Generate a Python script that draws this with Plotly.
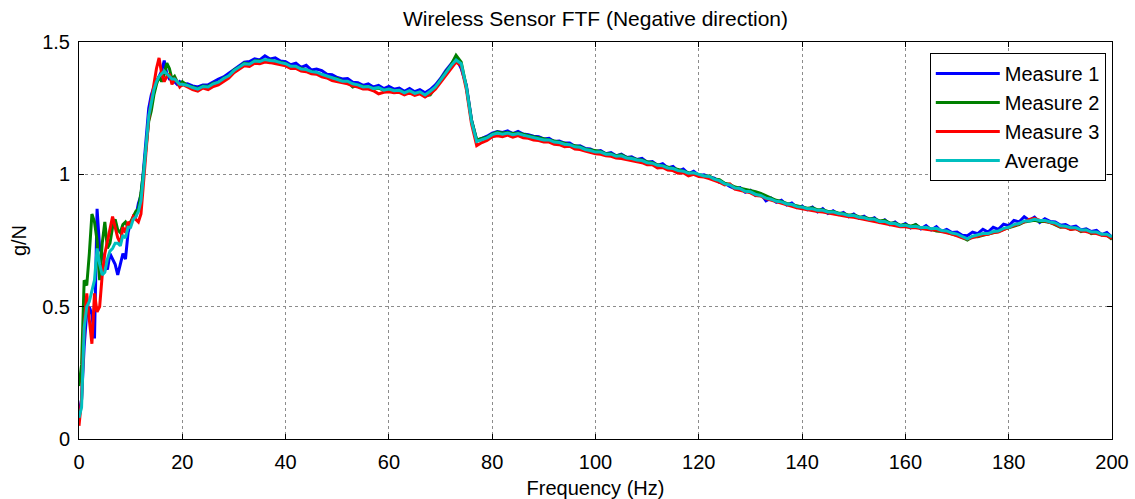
import plotly.graph_objects as go

# Frequency bins (Hz): 0.5 Hz spacing up to 20 Hz, then 1 Hz spacing to 200 Hz
freq = [i * 0.5 for i in range(41)] + list(range(21, 201))

measure_1 = [
    0.10, 0.15, 0.35, 0.48, 0.50, 0.47, 0.38, 0.87, 0.72, 0.70,
    0.66, 0.64, 0.70, 0.68, 0.66, 0.62, 0.66, 0.70, 0.68, 0.78,
    0.82, 0.83, 0.84, 0.89, 0.92, 1.02, 1.13, 1.25, 1.30, 1.33,
    1.35, 1.37, 1.39, 1.43, 1.38, 1.36, 1.36, 1.35, 1.34, 1.35,
    1.34,
    1.342, 1.334, 1.330, 1.338, 1.338, 1.350, 1.360, 1.368, 1.382, 1.398,
    1.412, 1.424, 1.426, 1.436, 1.432, 1.448, 1.436, 1.440, 1.428, 1.426,
    1.414, 1.420, 1.404, 1.412, 1.394, 1.398, 1.392, 1.378, 1.376, 1.366,
    1.360, 1.362, 1.348, 1.346, 1.336, 1.342, 1.330, 1.336, 1.324, 1.332,
    1.322, 1.326, 1.314, 1.324, 1.312, 1.320, 1.308, 1.320, 1.338, 1.362,
    1.392, 1.418, 1.440, 1.400, 1.336, 1.206, 1.128, 1.136, 1.144, 1.156,
    1.162, 1.158, 1.164, 1.154, 1.162, 1.152, 1.150, 1.144, 1.142, 1.134,
    1.136, 1.124, 1.126, 1.118, 1.118, 1.106, 1.108, 1.098, 1.096, 1.086,
    1.090, 1.078, 1.082, 1.070, 1.076, 1.064, 1.066, 1.056, 1.060, 1.046,
    1.048, 1.034, 1.040, 1.024, 1.030, 1.012, 1.020, 1.002, 1.012, 0.996,
    0.998, 0.990, 0.986, 0.970, 0.966, 0.954, 0.946, 0.950, 0.932, 0.940,
    0.920, 0.926, 0.900, 0.910, 0.894, 0.902, 0.884, 0.892, 0.874, 0.880,
    0.866, 0.876, 0.858, 0.870, 0.852, 0.862, 0.848, 0.856, 0.840, 0.850,
    0.834, 0.842, 0.828, 0.836, 0.818, 0.828, 0.810, 0.820, 0.804, 0.814,
    0.798, 0.810, 0.794, 0.806, 0.790, 0.802, 0.784, 0.792, 0.780, 0.782,
    0.770, 0.768, 0.782, 0.776, 0.792, 0.782, 0.800, 0.792, 0.812, 0.806,
    0.826, 0.820, 0.840, 0.826, 0.838, 0.818, 0.832, 0.822, 0.820, 0.808,
    0.810, 0.800, 0.804, 0.790, 0.794, 0.784, 0.788, 0.772, 0.780, 0.762,
]

measure_2 = [
    0.20, 0.28, 0.60, 0.58, 0.70, 0.85, 0.82, 0.75, 0.60, 0.74,
    0.82, 0.72, 0.74, 0.80, 0.83, 0.79, 0.78, 0.81, 0.82, 0.80,
    0.82, 0.84, 0.86, 0.87, 0.93, 1.01, 1.10, 1.20, 1.24, 1.30,
    1.34, 1.37, 1.35, 1.38, 1.42, 1.40, 1.36, 1.37, 1.35, 1.34,
    1.35,
    1.336, 1.330, 1.324, 1.334, 1.332, 1.344, 1.346, 1.364, 1.370, 1.394,
    1.404, 1.420, 1.416, 1.428, 1.428, 1.430, 1.432, 1.426, 1.424, 1.418,
    1.408, 1.406, 1.400, 1.394, 1.390, 1.384, 1.378, 1.372, 1.364, 1.362,
    1.352, 1.350, 1.330, 1.338, 1.332, 1.332, 1.324, 1.326, 1.318, 1.322,
    1.316, 1.318, 1.308, 1.314, 1.306, 1.310, 1.296, 1.300, 1.330, 1.356,
    1.386, 1.412, 1.450, 1.424, 1.330, 1.204, 1.130, 1.136, 1.140, 1.152,
    1.160, 1.156, 1.158, 1.154, 1.156, 1.152, 1.146, 1.142, 1.138, 1.134,
    1.132, 1.126, 1.122, 1.118, 1.112, 1.108, 1.104, 1.096, 1.092, 1.088,
    1.086, 1.078, 1.078, 1.070, 1.074, 1.064, 1.062, 1.056, 1.054, 1.048,
    1.044, 1.036, 1.032, 1.026, 1.024, 1.018, 1.012, 1.006, 1.004, 0.998,
    0.994, 0.994, 0.982, 0.980, 0.966, 0.962, 0.952, 0.948, 0.944, 0.940,
    0.934, 0.928, 0.918, 0.910, 0.902, 0.898, 0.890, 0.886, 0.880, 0.878,
    0.872, 0.874, 0.866, 0.866, 0.860, 0.860, 0.854, 0.852, 0.846, 0.846,
    0.840, 0.838, 0.832, 0.832, 0.824, 0.826, 0.816, 0.816, 0.808, 0.810,
    0.804, 0.810, 0.796, 0.800, 0.792, 0.786, 0.784, 0.782, 0.774, 0.770,
    0.762, 0.752, 0.764, 0.764, 0.770, 0.774, 0.780, 0.784, 0.792, 0.798,
    0.806, 0.810, 0.820, 0.822, 0.826, 0.822, 0.822, 0.818, 0.808, 0.800,
    0.802, 0.792, 0.796, 0.784, 0.790, 0.776, 0.780, 0.772, 0.770, 0.754,
]

measure_3 = [
    0.05, 0.15, 0.42, 0.55, 0.45, 0.36, 0.55, 0.48, 0.50, 0.62,
    0.70, 0.75, 0.79, 0.84, 0.80, 0.76, 0.74, 0.80, 0.78, 0.82,
    0.81, 0.84, 0.83, 0.82, 0.85, 0.97, 1.10, 1.21, 1.28, 1.34,
    1.40, 1.44, 1.38, 1.35, 1.37, 1.38, 1.34, 1.36, 1.35, 1.33,
    1.34,
    1.330, 1.320, 1.314, 1.326, 1.320, 1.332, 1.338, 1.352, 1.364, 1.384,
    1.396, 1.410, 1.408, 1.420, 1.418, 1.424, 1.422, 1.418, 1.414, 1.410,
    1.400, 1.400, 1.390, 1.388, 1.380, 1.378, 1.368, 1.364, 1.354, 1.350,
    1.344, 1.342, 1.334, 1.330, 1.322, 1.322, 1.316, 1.304, 1.310, 1.312,
    1.308, 1.310, 1.300, 1.308, 1.298, 1.304, 1.292, 1.304, 1.322, 1.348,
    1.376, 1.402, 1.424, 1.410, 1.320, 1.190, 1.108, 1.120, 1.128, 1.142,
    1.146, 1.142, 1.148, 1.140, 1.146, 1.138, 1.136, 1.130, 1.128, 1.122,
    1.122, 1.114, 1.112, 1.104, 1.106, 1.096, 1.094, 1.088, 1.082, 1.078,
    1.076, 1.070, 1.068, 1.062, 1.060, 1.056, 1.050, 1.048, 1.044, 1.036,
    1.036, 1.024, 1.026, 1.016, 1.014, 1.004, 1.006, 0.994, 1.000, 0.992,
    0.990, 0.984, 0.978, 0.970, 0.960, 0.964, 0.944, 0.940, 0.934, 0.930,
    0.920, 0.918, 0.908, 0.902, 0.896, 0.890, 0.884, 0.880, 0.874, 0.870,
    0.866, 0.864, 0.860, 0.858, 0.854, 0.852, 0.846, 0.844, 0.840, 0.838,
    0.834, 0.830, 0.826, 0.824, 0.818, 0.816, 0.810, 0.808, 0.802, 0.802,
    0.798, 0.798, 0.794, 0.792, 0.790, 0.790, 0.784, 0.780, 0.774, 0.768,
    0.760, 0.756, 0.762, 0.766, 0.772, 0.774, 0.780, 0.782, 0.792, 0.800,
    0.806, 0.812, 0.820, 0.830, 0.834, 0.826, 0.824, 0.818, 0.812, 0.802,
    0.800, 0.792, 0.794, 0.786, 0.784, 0.778, 0.776, 0.770, 0.768, 0.758,
]

average = [
    0.08, 0.12, 0.42, 0.50, 0.52, 0.56, 0.60, 0.72, 0.66, 0.62,
    0.63, 0.68, 0.71, 0.72, 0.74, 0.74, 0.73, 0.77, 0.76, 0.80,
    0.80, 0.83, 0.84, 0.86, 0.90, 1.00, 1.11, 1.22, 1.27, 1.32,
    1.35, 1.37, 1.38, 1.39, 1.38, 1.37, 1.36, 1.36, 1.35, 1.34,
    1.34,
    1.336, 1.328, 1.322, 1.332, 1.330, 1.342, 1.348, 1.362, 1.372, 1.392,
    1.404, 1.418, 1.416, 1.428, 1.426, 1.434, 1.430, 1.428, 1.422, 1.418,
    1.408, 1.408, 1.398, 1.396, 1.388, 1.386, 1.378, 1.372, 1.364, 1.360,
    1.352, 1.352, 1.342, 1.338, 1.330, 1.332, 1.324, 1.328, 1.318, 1.322,
    1.316, 1.318, 1.308, 1.316, 1.306, 1.312, 1.300, 1.314, 1.330, 1.356,
    1.384, 1.410, 1.432, 1.418, 1.330, 1.200, 1.124, 1.132, 1.138, 1.150,
    1.156, 1.152, 1.156, 1.150, 1.154, 1.148, 1.144, 1.140, 1.136, 1.130,
    1.130, 1.122, 1.120, 1.114, 1.112, 1.104, 1.102, 1.094, 1.090, 1.084,
    1.084, 1.076, 1.076, 1.068, 1.070, 1.062, 1.060, 1.054, 1.052, 1.044,
    1.042, 1.034, 1.032, 1.024, 1.022, 1.014, 1.012, 1.004, 1.006, 1.000,
    0.994, 0.992, 0.982, 0.976, 0.964, 0.960, 0.948, 0.946, 0.936, 0.934,
    0.924, 0.920, 0.910, 0.906, 0.898, 0.896, 0.888, 0.886, 0.878, 0.876,
    0.870, 0.870, 0.864, 0.864, 0.858, 0.858, 0.852, 0.850, 0.844, 0.844,
    0.838, 0.836, 0.830, 0.830, 0.822, 0.822, 0.814, 0.814, 0.806, 0.808,
    0.802, 0.804, 0.798, 0.800, 0.794, 0.796, 0.788, 0.786, 0.778, 0.774,
    0.764, 0.756, 0.766, 0.770, 0.776, 0.776, 0.784, 0.786, 0.796, 0.800,
    0.810, 0.814, 0.824, 0.824, 0.830, 0.826, 0.826, 0.820, 0.816, 0.806,
    0.804, 0.798, 0.798, 0.790, 0.790, 0.782, 0.782, 0.774, 0.774, 0.764,
]

series_names = ["Measure 1", "Measure 2", "Measure 3", "Average"]
series_colors = ["#0000ff", "#008000", "#ff0000", "#00bfbf"]
x_ticks = [0, 20, 40, 60, 80, 100, 120, 140, 160, 180, 200]
y_ticks = [0, 0.5, 1, 1.5]

FONT = "Arial, Liberation Sans, Helvetica, sans-serif"

fig = go.Figure()
for name, values, color in zip(series_names,
                               [measure_1, measure_2, measure_3, average],
                               series_colors):
    fig.add_trace(go.Scatter(
        x=freq, y=values, mode="lines", name=name,
        line=dict(color=color, width=3),
    ))

axis_common = dict(
    showline=True, linecolor="black", linewidth=1, mirror="allticks",
    ticks="inside", ticklen=5, tickwidth=1, tickcolor="black",
    showgrid=True, gridcolor="#8c8c8c", gridwidth=1, griddash="dot",
    zeroline=False, automargin=False,
    tickfont=dict(family=FONT, size=20, color="black"),
)

fig.update_layout(
    width=1135, height=499,
    margin=dict(l=79, r=23, t=42, b=60),
    paper_bgcolor="white", plot_bgcolor="white",
    font=dict(family=FONT, size=20, color="black"),
    title=dict(text="Wireless Sensor FTF (Negative direction)",
               x=0.5, xref="paper", xanchor="center",
               y=0.962, yanchor="middle",
               font=dict(family=FONT, size=21, color="black")),
    xaxis=dict(range=[0, 200], tickvals=x_ticks,
               title=dict(text="Frequency (Hz)", standoff=8,
                          font=dict(family=FONT, size=20)),
               ticklabelstandoff=5,
               **axis_common),
    yaxis=dict(range=[0, 1.5], tickvals=y_ticks, ticktext=["0", "0.5", "1", "1.5"],
               title=dict(text="g/N", standoff=10,
                          font=dict(family=FONT, size=20)),
               ticklabelstandoff=4,
               **axis_common),
    legend=dict(x=0.994, y=0.972, xanchor="right", yanchor="top",
                bgcolor="white", bordercolor="black", borderwidth=1,
                font=dict(family=FONT, size=20, color="black"),
                itemwidth=64, tracegroupgap=0),
    showlegend=True,
)

fig.write_html("out.html")
